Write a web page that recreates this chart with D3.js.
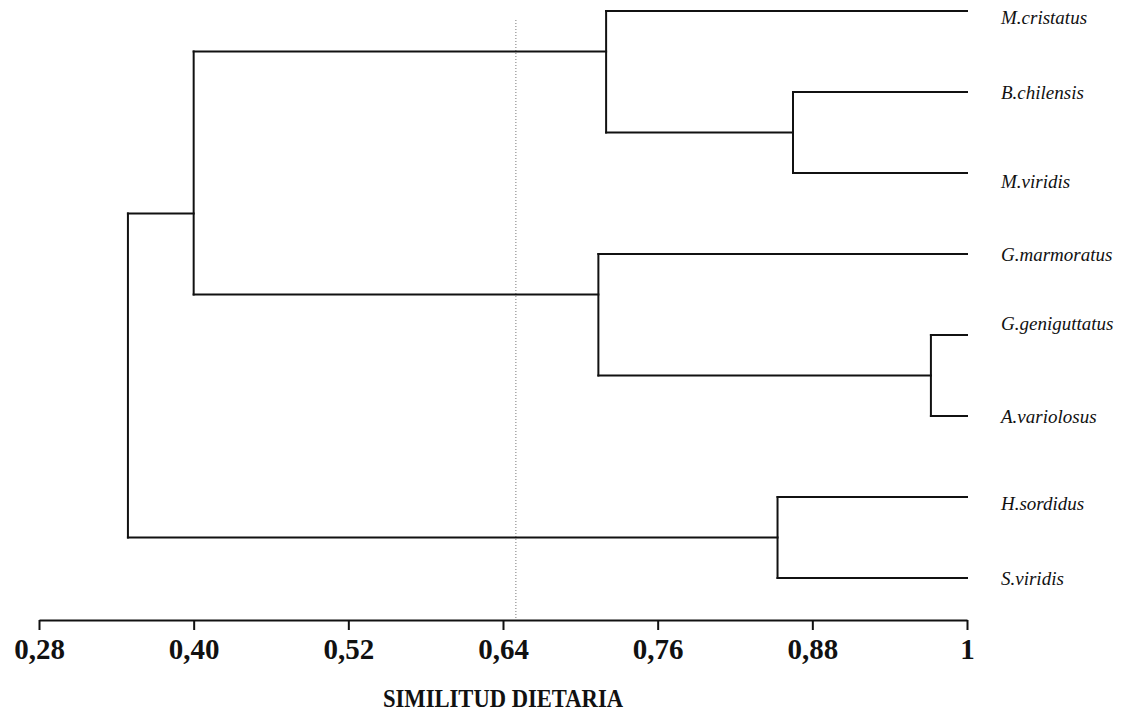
<!DOCTYPE html>
<html>
<head>
<meta charset="utf-8">
<script src="https://cdn.jsdelivr.net/npm/d3@7"></script>
<style>
  body { margin: 0; background: #fff; }
</style>
</head>
<body>
<div id="chart"></div>
<script>
// leaves, top to bottom
const leaves = ["M.cristatus", "B.chilensis", "M.viridis", "G.marmoratus",
                "G.geniguttatus", "A.variolosus", "H.sordidus", "S.viridis"];

// cluster nodes: similarity level, children, and where the branch joins its parent (in leaf rows)
const nodeIds    = ["n1", "n2", "n3", "n4", "n5", "n6", "root"];
const nodeSim    = [0.865, 0.720, 0.972, 0.714, 0.400, 0.853, 0.349];
const nodeKids   = [["B.chilensis", "M.viridis"], ["M.cristatus", "n1"],
                    ["G.geniguttatus", "A.variolosus"], ["G.marmoratus", "n3"],
                    ["n2", "n4"], ["H.sordidus", "S.viridis"], ["n5", "n6"]];
const nodeJoinAt = [1.5, 0.5, 4.5, 3.5, 2.5, 6.5, null];

const cutLevel   = 0.65;
const tickValues = [0.28, 0.40, 0.52, 0.64, 0.76, 0.88, 1];
const tickLabels = ["0,28", "0,40", "0,52", "0,64", "0,76", "0,88", "1"];
const axisTitle  = "SIMILITUD DIETARIA";

const width = 1128, height = 728;
const svg = d3.select("#chart").append("svg")
  .attr("width", width)
  .attr("height", height);

const x = d3.scaleLinear().domain([0.28, 1]).range([39, 967]);
const y = d3.scaleLinear().domain([0, 7]).range([11, 578]);

// lookup: every leaf and node gets a similarity and a row
const info = {};
leaves.forEach((name, i) => { info[name] = { sim: 1, row: i }; });
nodeIds.forEach((id, i) => { info[id] = { sim: nodeSim[i], row: nodeJoinAt[i], kids: nodeKids[i] }; });

// cut line (dotted)
svg.append("line")
  .attr("x1", x(cutLevel)).attr("x2", x(cutLevel))
  .attr("y1", 20).attr("y2", 620)
  .attr("stroke", "#777")
  .attr("stroke-width", 1)
  .attr("stroke-dasharray", "1,2");

const tree = svg.append("g")
  .attr("fill", "none")
  .attr("stroke", "#111")
  .attr("stroke-width", 2)
  .attr("stroke-linecap", "square");

nodeIds.forEach(id => {
  const n = info[id];
  const a = info[n.kids[0]], b = info[n.kids[1]];
  // vertical bar
  tree.append("line")
    .attr("x1", x(n.sim)).attr("x2", x(n.sim))
    .attr("y1", y(a.row)).attr("y2", y(b.row));
  // horizontal arms to each child
  [a, b].forEach(c => {
    tree.append("line")
      .attr("x1", x(n.sim)).attr("x2", x(c.sim))
      .attr("y1", y(c.row)).attr("y2", y(c.row));
  });
});

// leaf labels (a few sit a bit off their line in the scan)
const labelDy = { "M.cristatus": 6, "M.viridis": 8, "G.geniguttatus": -12, "H.sordidus": 6 };
svg.append("g").selectAll("text")
  .data(leaves)
  .enter()
  .append("text")
  .attr("x", 1001)
  .attr("y", (d, i) => y(i) + (labelDy[d] || 0))
  .attr("dy", "0.35em")
  .attr("font-family", "'Liberation Serif', 'DejaVu Serif', serif")
  .attr("font-style", "italic")
  .attr("font-size", "19px")
  .attr("fill", "#111")
  .text(d => d);

// x axis
const xAxis = d3.axisBottom(x)
  .tickValues(tickValues)
  .tickFormat((d, i) => tickLabels[i])
  .tickSize(10)
  .tickSizeOuter(0)
  .tickPadding(8);

const gx = svg.append("g")
  .attr("transform", "translate(0,620)")
  .call(xAxis);

gx.select(".domain").attr("stroke", "#111").attr("stroke-width", 2);
gx.selectAll(".tick line").attr("stroke", "#111").attr("stroke-width", 2);
gx.selectAll(".tick text")
  .attr("fill", "#111")
  .attr("font-family", "'Liberation Serif', 'DejaVu Serif', serif")
  .attr("font-weight", "bold")
  .attr("font-size", "29px");

svg.append("text")
  .attr("x", x(0.64))
  .attr("y", 707)
  .attr("text-anchor", "middle")
  .attr("font-family", "'Liberation Serif', 'DejaVu Serif', serif")
  .attr("font-weight", "bold")
  .attr("font-size", "25px")
  .attr("textLength", 240)
  .attr("lengthAdjust", "spacingAndGlyphs")
  .attr("fill", "#111")
  .text(axisTitle);
</script>
</body>
</html>
